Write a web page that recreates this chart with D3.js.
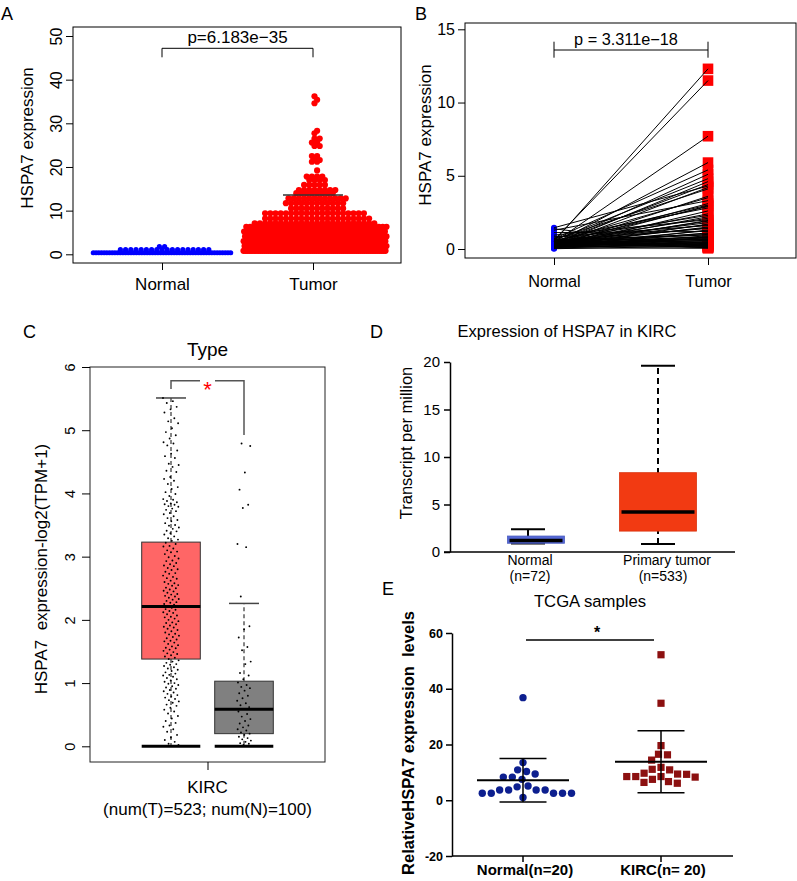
<!DOCTYPE html>
<html>
<head>
<meta charset="utf-8">
<script src="https://cdn.jsdelivr.net/npm/d3@7"></script>
<style>
  body { margin: 0; background: #fff; }
  svg { font-family: "Liberation Sans", Arial, sans-serif; }
</style>
</head>
<body>
<div class="canva"></div>
<script>
// ---------- data ----------
// A: beeswarm rows, [value, number of dots]
var groupsAB = ["Normal", "Tumor"];
var normalRowsA = [[0.35, 52], [1.05, 18], [1.75, 2]];
var tumorRowsA = [[0.8, 75], [1.9, 70], [3.0, 62], [4.1, 56], [5.2, 45], [6.3, 38], [7.1, 24],
                  [8.2, 21], [9.4, 20], [10.5, 11], [11.7, 12], [12.8, 12], [14.0, 8], [14.7, 8],
                  [15.9, 5], [17.0, 4], [17.8, 4], [19.2, 1], [21.2, 2], [21.6, 2], [22.5, 2],
                  [24.8, 2], [25.6, 2], [26.5, 2], [27.7, 1], [28.3, 1], [34.6, 1], [35.4, 1], [36.2, 1]];
var summaryA = [2.7, 6.0, 13.6];
var ticksA = [0, 10, 20, 30, 40, 50];
var pA = "p=6.183e\u221235";

// B: paired samples (normal[i] is linked to tumor[i])
var normalB = [0.52, 0.61, 0.45, 0.38, 0.70, 0.33, 0.58, 0.27, 0.42, 1.45,
               0.25, 0.66, 0.18, 0.49, 1.28, 0.31, 0.55, 0.22, 0.40, 0.74,
               0.12, 0.36, 0.60, 0.29, 0.47, 0.95, 0.20, 0.34, 0.51, 0.15,
               0.43, 0.82, 0.26, 0.39, 0.57, 0.10, 0.30, 1.12, 0.23, 0.46,
               0.35, 0.64, 0.19, 0.28, 0.53, 0.08, 0.41, 0.32, 0.24, 0.68,
               0.16, 0.37, 0.50, 0.21, 0.44, 0.05, 0.30, 0.88, 0.14, 0.27,
               0.39, 0.56, 0.11, 0.33, 0.48, 0.02, 0.25, 1.38, 0.17, 0.42,
               0.60, 0.07];
var tumorB = [12.3, 11.5, 7.7, 5.9, 5.4, 5.1, 4.8, 4.6, 4.4, 4.3,
              4.2, 4.1, 3.6, 3.5, 3.3, 3.1, 3.0, 2.95, 2.9, 2.8,
              2.6, 2.4, 2.3, 2.2, 2.1, 2.0, 1.95, 1.9, 1.8, 1.7,
              1.65, 1.6, 1.5, 1.45, 1.4, 1.3, 1.25, 1.2, 1.1, 1.05,
              1.0, 0.95, 0.9, 0.85, 0.8, 0.78, 0.75, 0.7, 0.68, 0.65,
              0.6, 0.58, 0.55, 0.5, 0.48, 0.45, 0.42, 0.4, 0.38, 0.35,
              0.32, 0.3, 0.28, 0.25, 0.22, 0.2, 0.18, 0.15, 0.12, 0.1,
              0.08, 0.05];
var ticksB = [0, 5, 10, 15];
var pB = "p = 3.311e\u221218";

// C: GEPIA box plot, log2(TPM+1)
var groupsC = ["Tumor", "Normal"];
var q1C = [1.38, 0.20];
var medC = [2.21, 0.585];
var q3C = [3.23, 1.03];
var whiskC = [5.51, 2.26];
var tumorC = [5.51,5.46,5.43,5.37,5.33,5.28,5.19,5.14,5.11,5.03,4.97,4.92,
  4.87,4.81,4.79,4.76,4.68,4.63,4.59,4.56,4.47,4.45,4.42,4.36,
  4.34,4.26,4.23,4.20,4.15,4.10,4.07,4.02,3.99,3.96,3.91,3.90,
  3.88,3.86,3.84,3.83,3.82,3.80,3.79,3.76,3.74,3.72,3.69,3.67,
  3.64,3.61,3.58,3.56,3.53,3.50,3.49,3.46,3.44,3.41,3.40,3.37,
  3.35,3.32,3.29,3.27,3.25,3.22,3.20,3.17,3.16,3.13,3.10,3.08,
  3.07,3.04,3.01,2.99,2.97,2.94,2.93,2.90,2.88,2.86,2.85,2.82,
  2.80,2.79,2.76,2.74,2.73,2.70,2.68,2.66,2.65,2.62,2.60,2.58,
  2.57,2.55,2.54,2.51,2.50,2.48,2.46,2.45,2.43,2.41,2.40,2.38,
  2.37,2.35,2.33,2.32,2.30,2.28,2.27,2.25,2.24,2.22,2.21,2.19,
  2.17,2.16,2.14,2.12,2.11,2.09,2.07,2.05,2.04,2.02,2.00,1.98,
  1.96,1.95,1.93,1.91,1.89,1.88,1.86,1.84,1.82,1.80,1.78,1.77,
  1.75,1.73,1.71,1.69,1.67,1.66,1.64,1.62,1.60,1.58,1.56,1.55,
  1.53,1.51,1.49,1.47,1.46,1.44,1.42,1.40,1.38,1.36,1.34,1.32,
  1.30,1.29,1.27,1.25,1.23,1.21,1.19,1.17,1.15,1.13,1.12,1.10,
  1.08,1.06,1.04,1.02,1.00,0.99,0.97,0.95,0.93,0.91,0.89,0.87,
  0.85,0.83,0.81,0.79,0.77,0.75,0.73,0.71,0.69,0.66,0.64,0.61,
  0.58,0.55,0.52,0.48,0.44,0.40,0.37,0.33,0.31,0.27,0.23,0.18,
  0.14,0.10,0.07,0.04,0.02];
var normalC = [4.79,4.75,4.33,4.06,3.82,3.77,3.20,3.15,2.37,1.90,1.85,1.72,1.57,1.52,
  1.34,1.30,1.16,1.12,1.06,1.01,0.97,0.94,0.92,0.88,0.84,0.80,0.76,0.72,0.68,0.65,
  0.62,0.59,0.55,0.51,0.47,0.43,0.40,0.36,0.33,0.30,0.27,0.25,0.22,0.20,0.18,0.15,
  0.13,0.11,0.09,0.07,0.05,0.04,0.02];
var ticksC = [0, 1, 2, 3, 4, 5, 6];

// D: UALCAN box plot, transcripts per million
var groupsD = ["Normal", "Primary tumor"];
var countsD = ["(n=72)", "(n=533)"];
var minD = [0.9, 0.85];
var q1D = [0.92, 2.2];
var medD = [1.2, 4.2];
var q3D = [1.68, 8.35];
var maxD = [2.4, 19.6];
var ticksD = [0, 5, 10, 15, 20];

// E: TCGA samples, dot plot with mean and SD
var groupsE = ["Normal(n=20)", "KIRC(n= 20)"];
var normalE = [36.8, 13.5, 10.9, 9.4, 10.3, 8.3, 8.3, 7.5, 5.1, 4.8,
               3.7, 3.7, 3.7, 3.7, 2.5, 2.5, 2.5, 2.5, 2.5, 1.0];
var kircE = [52.2, 34.8, 19.6, 16.5, 16.3, 14.4, 11.8, 10.9, 11.1, 9.7,
             9.3, 9.4, 8.5, 8.3, 8.5, 8.5, 7.5, 6.7, 6.4, 6.1];
var ticksE = [-20, 0, 20, 40, 60];

// ---------- helpers ----------
const svg = d3.select(".canva").append("svg")
              .attr("width", 797)
              .attr("height", 881);

function cleanAxis(g, size, weight) {
  g.attr("font-family", null).attr("font-size", size);
  g.selectAll("text").attr("fill", "#000").attr("font-weight", weight || null);
  g.selectAll("line").attr("stroke", "#000");
  g.select(".domain").attr("stroke", "#000");
}

// rows of a corralled beeswarm, alternate rows shifted half a step
function rowLayout(rows, step0, half) {
  var pts = [];
  rows.forEach(function(r, k) {
    var n = r[1], step = Math.min(step0, 2 * half / n);
    var shift = (k % 2) ? step / 2 : 0;
    for (var i = 0; i < n; i++) pts.push({v: r[0], dx: (i - (n - 1) / 2) * step + shift});
  });
  return pts;
}

// greedy swarm: each dot goes to the free spot closest to the centre
function swarm(vals, y, d) {
  var placed = [], out = [];
  var order = vals.map((v, i) => i).sort((a, b) => vals[b] - vals[a]);
  order.forEach(function(i) {
    var py = y(vals[i]), cands = [0];
    placed.forEach(function(p) {
      var dy = py - p.y;
      if (Math.abs(dy) < d) {
        var dx = Math.sqrt(d * d - dy * dy);
        cands.push(p.x + dx, p.x - dx);
      }
    });
    cands.sort((a, b) => Math.abs(a) - Math.abs(b) || a - b);
    var x = cands.find(c => placed.every(p => (c - p.x) ** 2 + (py - p.y) ** 2 >= d * d - 0.01));
    placed.push({x: x, y: py});
    out.push({v: vals[i], dx: x});
  });
  return out;
}

// deterministic jitter offset in [-1, 1]
function jit(i) { return ((i * 0.6180339887) % 1 - 0.5) * 2; }

// panel letters
[["A", 1, 20], ["B", 415, 20], ["C", 23, 338], ["D", 370, 338], ["E", 382, 595]].forEach(function(l) {
  svg.append("text").attr("x", l[1]).attr("y", l[2]).attr("font-size", 18).text(l[0]);
});

// ---------- A ----------
const gA = svg.append("g");
const yA = d3.scaleLinear().domain([0, 50]).range([254.3, 36]);
const xA = d3.scalePoint().domain(groupsAB).range([162, 313]);

gA.append("rect").attr("x", 73).attr("y", 27).attr("width", 328).attr("height", 236)
  .attr("fill", "none").attr("stroke", "#000");

gA.append("g").attr("transform", "translate(73,0)")
  .call(d3.axisLeft(yA).tickValues(ticksA).tickSize(7))
  .call(g => {
    cleanAxis(g, 16);
    g.select(".domain").remove();
    g.selectAll("text").attr("transform", "rotate(-90)").attr("x", 0).attr("y", -11)
      .attr("dy", 0).attr("text-anchor", "middle");
  });
gA.append("g").attr("transform", "translate(0,263)")
  .call(d3.axisBottom(xA).tickSize(7))
  .call(g => { cleanAxis(g, 17); g.select(".domain").remove(); g.selectAll("text").attr("y", 27).attr("dy", 0); });

gA.append("text").attr("transform", "translate(33,138) rotate(-90)")
  .attr("text-anchor", "middle").attr("font-size", 17).text("HSPA7 expression");

// lower summary lines (mostly hidden by the dots)
gA.selectAll(".sumA").data(summaryA.filter(d => d < 10)).enter().append("line")
  .attr("x1", xA("Tumor") - 30).attr("x2", xA("Tumor") + 30)
  .attr("y1", d => yA(d)).attr("y2", d => yA(d))
  .attr("stroke", "#222").attr("stroke-width", 1.2).attr("stroke-dasharray", "1,2");

gA.selectAll(".nA").data(rowLayout(normalRowsA, 5.2, 70)).enter().append("circle")
  .attr("cx", d => xA("Normal") + d.dx).attr("cy", d => yA(d.v)).attr("r", 2.6).attr("fill", "#0000ff");
gA.selectAll(".tA").data(rowLayout(tumorRowsA, 5.2, 72)).enter().append("circle")
  .attr("cx", d => xA("Tumor") + 1.5 + d.dx).attr("cy", d => yA(d.v)).attr("r", 3.1).attr("fill", "#ff0000");

gA.selectAll(".sumA2").data(summaryA.filter(d => d >= 10)).enter().append("line")
  .attr("x1", xA("Tumor") - 30).attr("x2", xA("Tumor") + 30)
  .attr("y1", d => yA(d)).attr("y2", d => yA(d))
  .attr("stroke", "#333").attr("stroke-width", 1.5);

gA.append("path").attr("fill", "none").attr("stroke", "#000")
  .attr("d", `M${xA("Normal")},57.3V48.3H${xA("Tumor")}V57.3`);
gA.append("text").attr("x", (xA("Normal") + xA("Tumor")) / 2).attr("y", 43)
  .attr("text-anchor", "middle").attr("font-size", 17).text(pA);

// ---------- B ----------
const gB = svg.append("g");
const yB = d3.scaleLinear().domain([0, 15]).range([249, 29.3]);
const xB = d3.scalePoint().domain(groupsAB).range([554, 708]);

gB.append("rect").attr("x", 465).attr("y", 23).attr("width", 331).attr("height", 235)
  .attr("fill", "none").attr("stroke", "#000");
gB.append("g").attr("transform", "translate(465,0)")
  .call(d3.axisLeft(yB).tickValues(ticksB).tickSize(7).tickPadding(3))
  .call(g => { cleanAxis(g, 16); g.select(".domain").remove(); });
gB.append("g").attr("transform", "translate(0,258)")
  .call(d3.axisBottom(xB).tickSize(7))
  .call(g => { cleanAxis(g, 16.3); g.select(".domain").remove(); g.selectAll("text").attr("y", 29).attr("dy", 0); });
gB.append("text").attr("transform", "translate(431,135) rotate(-90)")
  .attr("text-anchor", "middle").attr("font-size", 17).text("HSPA7 expression");

gB.selectAll(".nB").data(normalB).enter().append("circle")
  .attr("cx", xB("Normal")).attr("cy", d => yB(d)).attr("r", 3).attr("fill", "#0000ff");
gB.selectAll(".tB").data(tumorB).enter().append("rect")
  .attr("x", xB("Tumor") - 5.3).attr("y", d => yB(d) - 5.3).attr("width", 10.6).attr("height", 10.6)
  .attr("fill", "#ff0000");
gB.selectAll(".lB").data(normalB).enter().append("line")
  .attr("x1", xB("Normal")).attr("y1", d => yB(d))
  .attr("x2", xB("Tumor")).attr("y2", (d, i) => yB(tumorB[i]))
  .attr("stroke", "#000").attr("stroke-width", 1);

gB.append("path").attr("fill", "none").attr("stroke", "#000")
  .attr("d", `M${xB("Normal")},41.7V57.7M${xB("Normal")},50H${xB("Tumor")}M${xB("Tumor")},41.7V57.7`);
gB.append("text").attr("x", 626).attr("y", 45).attr("text-anchor", "middle")
  .attr("font-size", 16.3).text(pB);

// ---------- C ----------
const gC = svg.append("g");
const yC = d3.scaleLinear().domain([0, 6]).range([746.3, 367]);
const xC = d3.scalePoint().domain(groupsC).range([171, 244]);
const xCat = d3.scalePoint().domain(["KIRC"]).range([90, 325]).padding(0.5);
const fillC = ["#ff6666", "#808080"];
const halfC = 29.3;

gC.append("text").attr("x", 207.5).attr("y", 356).attr("text-anchor", "middle")
  .attr("font-size", 19).text("Type");
gC.append("rect").attr("x", 90).attr("y", 367).attr("width", 235).attr("height", 395)
  .attr("fill", "none").attr("stroke", "#222");
gC.append("g").attr("transform", "translate(90,0)")
  .call(d3.axisLeft(yC).tickValues(ticksC).tickSize(8).tickFormat(d => String(d)))
  .call(g => {
    cleanAxis(g, 14.5);
    g.select(".domain").remove();
    g.selectAll("text").attr("transform", "rotate(-90)").attr("x", 0).attr("y", -15)
      .attr("dy", 0).attr("text-anchor", "middle");
  });
gC.append("g").attr("transform", "translate(0,762)")
  .call(d3.axisBottom(xCat).tickSize(8).tickFormat(""))
  .call(g => { cleanAxis(g, 17); g.select(".domain").remove(); });
gC.append("text").attr("x", xCat("KIRC")).attr("y", 793).attr("text-anchor", "middle")
  .attr("font-size", 17).text("KIRC");
gC.append("text").attr("x", xCat("KIRC")).attr("y", 815).attr("text-anchor", "middle")
  .attr("font-size", 17).text("(num(T)=523; num(N)=100)");
gC.append("text").attr("transform", "translate(46.5,569) rotate(-90)")
  .attr("text-anchor", "middle").attr("font-size", 17).style("white-space", "pre")
  .text("HSPA7  expression-log2(TPM+1)");

groupsC.forEach(function(gr, i) {
  var cx = xC(gr);
  // whiskers
  gC.append("line").attr("x1", cx).attr("x2", cx).attr("y1", yC(q3C[i])).attr("y2", yC(whiskC[i]))
    .attr("stroke", "#666").attr("stroke-width", 1.6).attr("stroke-dasharray", "4,3");
  gC.append("line").attr("x1", cx).attr("x2", cx).attr("y1", yC(q1C[i])).attr("y2", yC(0))
    .attr("stroke", "#666").attr("stroke-width", 1.6).attr("stroke-dasharray", "4,3");
  gC.append("line").attr("x1", cx - 15).attr("x2", cx + 15).attr("y1", yC(whiskC[i])).attr("y2", yC(whiskC[i]))
    .attr("stroke", "#444").attr("stroke-width", 1.5);
  gC.append("rect").attr("x", cx - halfC).attr("width", 2 * halfC)
    .attr("y", yC(q3C[i])).attr("height", yC(q1C[i]) - yC(q3C[i]))
    .attr("fill", fillC[i]).attr("stroke", "#333").attr("stroke-width", 1);
  gC.append("line").attr("x1", cx - halfC).attr("x2", cx + halfC).attr("y1", yC(medC[i])).attr("y2", yC(medC[i]))
    .attr("stroke", "#000").attr("stroke-width", 3);
  gC.append("line").attr("x1", cx - halfC).attr("x2", cx + halfC).attr("y1", yC(0)).attr("y2", yC(0))
    .attr("stroke", "#000").attr("stroke-width", 3);
});

gC.selectAll(".tC").data(tumorC).enter().append("circle")
  .attr("cx", (d, i) => xC("Tumor") + jit(i) * 8).attr("cy", d => yC(d)).attr("r", 0.95).attr("fill", "#000");
gC.selectAll(".nC").data(normalC).enter().append("circle")
  .attr("cx", (d, i) => xC("Normal") + jit(i + 7) * 7).attr("cy", d => yC(d)).attr("r", 0.95).attr("fill", "#000");

gC.append("path").attr("fill", "none").attr("stroke", "#555").attr("stroke-width", 1.5)
  .attr("d", `M${xC("Tumor")},389V380.7H200M215,380.7H${xC("Normal")}V435`);
gC.append("text").attr("x", 207.5).attr("y", 397).attr("text-anchor", "middle")
  .attr("font-size", 22).attr("fill", "#ff0000").text("*");

// ---------- D ----------
const gD = svg.append("g");
const yD = d3.scaleLinear().domain([0, 20]).range([552, 362]);
const xD = d3.scalePoint().domain(groupsD).range([528, 658]);
const boxHalfD = [28.5, 38.5];
const boxShiftD = [8, 0];
const fillD = ["#5467d6", "#f23a12"];

gD.append("text").attr("x", 567).attr("y", 336.5).attr("text-anchor", "middle")
  .attr("font-size", 16.5).text("Expression of HSPA7 in KIRC");
gD.append("g").attr("transform", "translate(450,0)")
  .call(d3.axisLeft(yD).tickValues(ticksD).tickSize(6).tickSizeOuter(0).tickPadding(4))
  .call(g => { cleanAxis(g, 15); g.selectAll("line,.domain").attr("stroke-width", 1.5); });
gD.append("line").attr("x1", 444).attr("x2", 735).attr("y1", 552).attr("y2", 552)
  .attr("stroke", "#000").attr("stroke-width", 1.5);
gD.append("text").attr("transform", "translate(412,443) rotate(-90)")
  .attr("text-anchor", "middle").attr("font-size", 16.5).text("Transcript per million");

groupsD.forEach(function(gr, i) {
  var cx = xD(gr), bx = cx + boxShiftD[i], h = boxHalfD[i];
  gD.append("line").attr("x1", cx).attr("x2", cx).attr("y1", yD(minD[i])).attr("y2", yD(maxD[i]))
    .attr("stroke", "#000").attr("stroke-width", 2).attr("stroke-dasharray", i ? "6,4" : null);
  [minD[i], maxD[i]].forEach(function(v) {
    gD.append("line").attr("x1", cx - 17).attr("x2", cx + 17).attr("y1", yD(v)).attr("y2", yD(v))
      .attr("stroke", "#000").attr("stroke-width", 2);
  });
  gD.append("rect").attr("x", bx - h).attr("width", 2 * h)
    .attr("y", yD(q3D[i])).attr("height", yD(q1D[i]) - yD(q3D[i]))
    .attr("fill", fillD[i]).attr("stroke", d3.color(fillD[i]).darker(0.3)).attr("stroke-width", 0.8);
  gD.append("line").attr("x1", bx - h + 2).attr("x2", bx + h - 2).attr("y1", yD(medD[i])).attr("y2", yD(medD[i]))
    .attr("stroke", "#000").attr("stroke-width", 3.5);
  var lx = i ? 667 : 530;
  gD.append("text").attr("x", lx).attr("y", 565).attr("text-anchor", "middle")
    .attr("font-size", 14).text(gr);
  gD.append("text").attr("x", lx - (i ? 4 : 0)).attr("y", 581).attr("text-anchor", "middle")
    .attr("font-size", 14).text(countsD[i]);
});

// ---------- E ----------
const gE = svg.append("g");
const yE = d3.scaleLinear().domain([-20, 60]).range([856, 633]);
const xE = d3.scalePoint().domain(groupsE).range([523, 661]);
const colE = ["#0d1f8f", "#8c1010"];

gE.append("text").attr("x", 590).attr("y", 607).attr("text-anchor", "middle")
  .attr("font-size", 16.7).text("TCGA samples");
gE.append("g").attr("transform", "translate(452,0)")
  .call(d3.axisLeft(yE).tickValues(ticksE).tickSize(6).tickSizeOuter(0).tickPadding(3).tickFormat(d => String(d)))
  .call(g => { cleanAxis(g, 12.5, "bold"); g.selectAll("line,.domain").attr("stroke-width", 1.5); });
gE.append("line").attr("x1", 452).attr("x2", 733).attr("y1", 856).attr("y2", 856)
  .attr("stroke", "#000").attr("stroke-width", 1.5);
gE.selectAll(".tickE").data(groupsE).enter().append("line")
  .attr("x1", d => xE(d)).attr("x2", d => xE(d)).attr("y1", 856).attr("y2", 862)
  .attr("stroke", "#000").attr("stroke-width", 1.5);
gE.selectAll(".labE").data(groupsE).enter().append("text")
  .attr("x", d => xE(d) + 2).attr("y", 875).attr("text-anchor", "middle")
  .attr("font-size", 15).attr("font-weight", "bold").text(d => d);
gE.append("text").attr("transform", "translate(414,743) rotate(-90)")
  .attr("text-anchor", "middle").attr("font-size", 16.5).attr("font-weight", "bold")
  .style("white-space", "pre").text("RelativeHSPA7 expression  levels");

gE.selectAll(".nE").data(swarm(normalE, yE, 9)).enter().append("circle")
  .attr("cx", d => xE(groupsE[0]) + d.dx).attr("cy", d => yE(d.v)).attr("r", 3.7).attr("fill", colE[0]);
gE.selectAll(".kE").data(swarm(kircE, yE, 9)).enter().append("rect")
  .attr("x", d => xE(groupsE[1]) + d.dx - 3.6).attr("y", d => yE(d.v) - 3.6)
  .attr("width", 7.2).attr("height", 7.2).attr("fill", colE[1]);

[normalE, kircE].forEach(function(vals, i) {
  var cx = xE(groupsE[i]), m = d3.mean(vals), s = d3.deviation(vals);
  gE.append("line").attr("x1", cx - 46).attr("x2", cx + 46).attr("y1", yE(m)).attr("y2", yE(m))
    .attr("stroke", "#000").attr("stroke-width", 2);
  gE.append("line").attr("x1", cx).attr("x2", cx).attr("y1", yE(m - s)).attr("y2", yE(m + s))
    .attr("stroke", "#000").attr("stroke-width", 1.5);
  [m - s, m + s].forEach(function(v) {
    gE.append("line").attr("x1", cx - 23.5).attr("x2", cx + 23.5).attr("y1", yE(v)).attr("y2", yE(v))
      .attr("stroke", "#000").attr("stroke-width", 1.5);
  });
});

gE.append("line").attr("x1", 526).attr("x2", 654).attr("y1", 640).attr("y2", 640)
  .attr("stroke", "#000").attr("stroke-width", 1.5);
gE.append("text").attr("x", 597).attr("y", 638).attr("text-anchor", "middle")
  .attr("font-size", 16).attr("font-weight", "bold").text("*");
</script>
</body>
</html>
